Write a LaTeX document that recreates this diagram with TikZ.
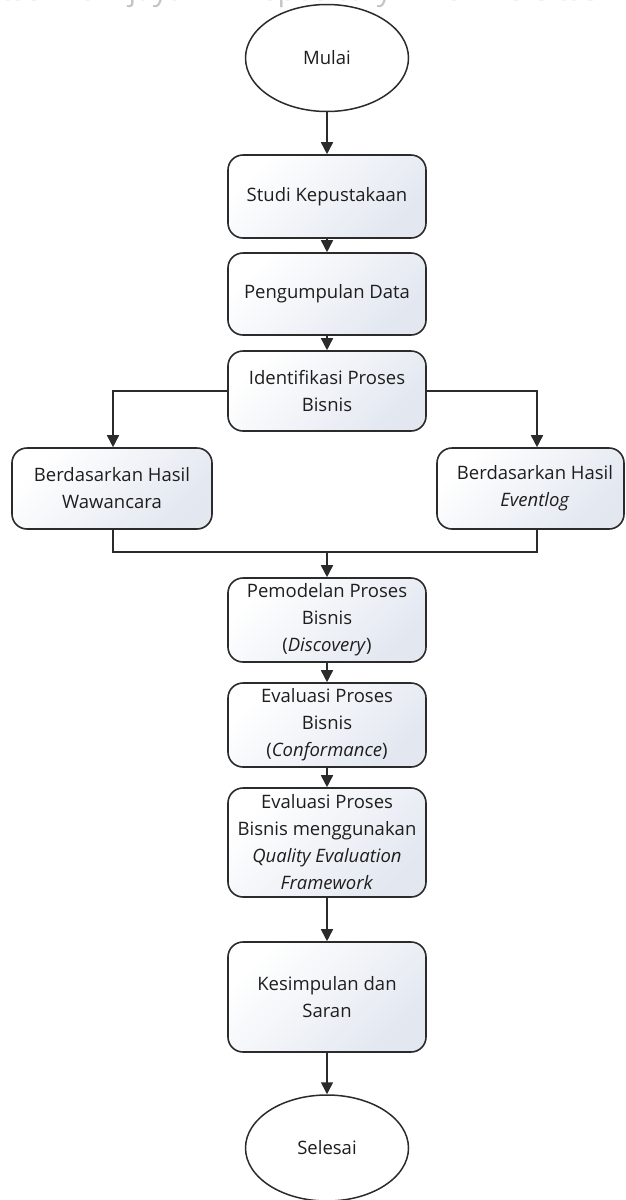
\documentclass[tikz,border=0pt]{standalone}
\usepackage{fontspec}
\setmainfont{Open Sans}
\usetikzlibrary{shapes.geometric,arrows.meta}
\definecolor{ink}{HTML}{1E1E1E}
\definecolor{edge}{HTML}{2B2B2B}
\definecolor{shade}{HTML}{E2E7F0}
\definecolor{mark}{HTML}{C4C4C4}
\tikzset{
  boxfont/.style={font=\fontsize{18.5}{27}\selectfont},
  proc/.style={draw=edge, line width=1.6pt, rounded corners=15pt,
    top color=white, bottom color=shade, shading angle=45,
    text=ink, align=center, inner sep=0pt, minimum width=198pt, boxfont},
  terminal/.style={ellipse, draw=edge, line width=1.5pt, fill=white,
    minimum width=163pt, minimum height=107pt, inner sep=0pt,
    text=ink, boxfont},
  link/.style={draw=edge, line width=1.6pt},
  arr/.style={link, -{Triangle[width=12pt,length=12pt]}},
  stamp/.style={text=mark, inner sep=0pt, font=\fontsize{30}{30}\selectfont},
}
\begin{document}
\begin{tikzpicture}[x=1pt, y=-1pt]
  \useasboundingbox (0,0) rectangle (626,1200);

  % repository stamp along the top edge, only its lower rim on the page
  \begin{scope}
    \clip (0,0) rectangle (626,1200);
    \node[stamp, anchor=base east] (stampA) at (185,0) {Universitas Brawijaya};
    \node[stamp, anchor=base west] (stampB) at (242,0) {Repository};
    \node[stamp, anchor=base west] (stampC) at (443,0) {Universitas Brawijaya};
  \end{scope}

  % main column
  \node[terminal] (start) at (327,58) {Mulai};
  \node[proc, minimum height=83pt] (studi) at (327,196.5) {Studi Kepustakaan};
  \node[proc, minimum height=82pt] (kumpul) at (327,294) {Pengumpulan Data};
  \node[proc, minimum height=80pt] (ident) at (327,391) {Identifikasi Proses\\Bisnis};

  % two branches
  \node[proc, minimum width=200pt, minimum height=81pt] (wawan) at (112,488.5)
    {Berdasarkan Hasil\\Wawancara};
  \node[proc, minimum width=187pt, minimum height=81pt] (evlog) at (530.5,488.5)
    {\hspace*{9pt}Berdasarkan Hasil\\\hspace*{9pt}\textit{Eventlog}};

  \node[proc, minimum height=84pt] (model) at (327,620)
    {Pemodelan Proses\\Bisnis\\(\textit{Discovery})};
  \node[proc, minimum height=84pt] (conf) at (327,725)
    {Evaluasi Proses\\Bisnis\\(\textit{Conformance})};
  \node[proc, minimum height=109pt] (qef) at (327,842.5)
    {Evaluasi Proses\\Bisnis menggunakan\\\textit{Quality Evaluation}\\\textit{Framework}};
  \node[proc, minimum height=110pt] (simpul) at (327,997)
    {Kesimpulan dan\\Saran};
  \node[terminal, minimum height=106pt] (end) at (327,1148) {Selesai};

  % connectors
  \draw[arr] (start) -- (studi);
  \draw[arr] (studi) -- (kumpul);
  \draw[arr] (kumpul) -- (ident);
  \draw[arr] (ident.west) -| ([xshift=1pt]wawan.north);
  \draw[arr] (ident.east) -| ([xshift=6.5pt]evlog.north);
  \coordinate (join) at (327,552);
  \draw[link] ([xshift=1pt]wawan.south) |- (join) -| ([xshift=6.5pt]evlog.south);
  \draw[arr] (join) -- (model);
  \draw[arr] (model) -- (conf);
  \draw[arr] (conf) -- (qef);
  \draw[arr] (qef) -- (simpul);
  \draw[arr] (simpul) -- (end);
\end{tikzpicture}
\end{document}
